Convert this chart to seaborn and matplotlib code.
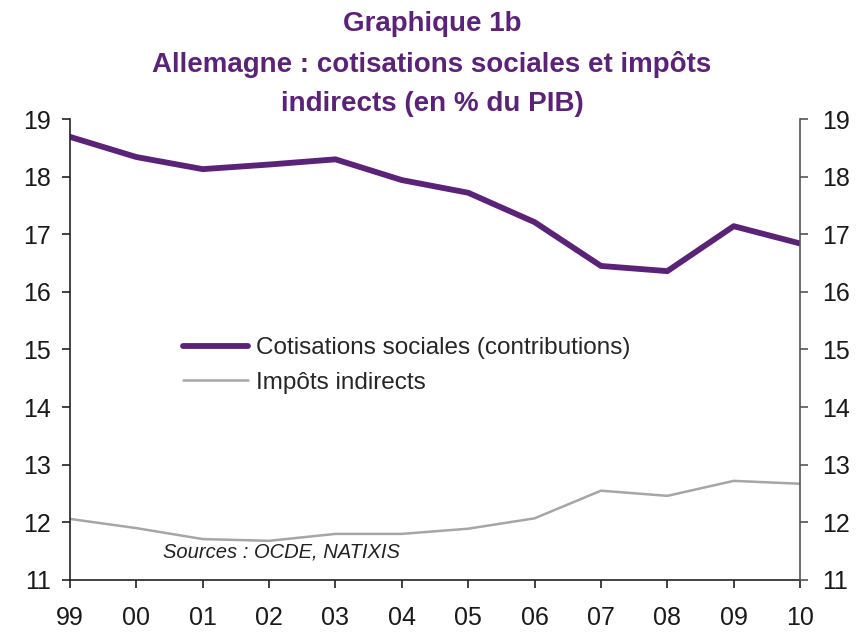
# Graphique 1b - Allemagne : cotisations sociales et impôts indirects
import matplotlib
matplotlib.use("Agg")
import matplotlib.pyplot as plt
import seaborn as sns
import pandas as pd

# Données (en % du PIB)
annees = ["99", "00", "01", "02", "03", "04", "05", "06", "07", "08", "09", "10"]
cotisations = [18.69, 18.34, 18.13, 18.21, 18.30, 17.94, 17.72, 17.21, 16.45, 16.36, 17.14, 16.84]
impots = [12.06, 11.90, 11.71, 11.68, 11.80, 11.80, 11.89, 12.07, 12.55, 12.46, 12.72, 12.67]

violet = "#5b2378"
gris = "#a6a6a6"

sns.set_style("white")
plt.rcParams["font.family"] = ["Liberation Sans", "DejaVu Sans"]

datos = pd.DataFrame({"annee": annees + annees,
                      "valeur": cotisations + impots,
                      "serie": ["Cotisations sociales (contributions)"] * len(annees)
                               + ["Impôts indirects"] * len(annees)})

fig = plt.figure(figsize=(8.64, 6.32), dpi=100)
ax = fig.add_axes([0.081, 0.0823, 0.845, 0.7294])

sns.lineplot(data=datos, x="annee", y="valeur", hue="serie", size="serie",
             palette=[violet, gris], sizes=[4.2, 1.8], ax=ax, legend=False)

ax.set_xlim(0, 11)
ax.set_ylim(11, 19)
ax.set_yticks(range(11, 20))
ax.set_xlabel("")
ax.set_ylabel("")
for s in ["top", "right"]:
    ax.spines[s].set_visible(False)
for s in ["left", "bottom"]:
    ax.spines[s].set_color("#222222")
    ax.spines[s].set_linewidth(1.2)
ax.tick_params(axis="both", direction="out", length=6, width=1.2, color="#222222",
               labelsize=18, left=True, bottom=True, labelcolor="#1a1a1a")
ax.tick_params(axis="x", pad=13)
ax.tick_params(axis="y", pad=8)

# axe de droite
ax2 = ax.twinx()
ax2.set_ylim(11, 19)
ax2.set_yticks(range(11, 20))
for s in ["top", "left", "bottom"]:
    ax2.spines[s].set_visible(False)
ax2.spines["right"].set_color("#555555")
ax2.spines["right"].set_linewidth(1.2)
ax2.tick_params(axis="y", direction="out", length=6, width=1.2, color="#555555",
                labelsize=18, right=True, pad=10, labelcolor="#1a1a1a")

# légende
lignes = [plt.Line2D([], [], color=violet, lw=4.2, solid_capstyle="round"),
          plt.Line2D([], [], color=gris, lw=1.8)]
ax.legend(lignes, ["Cotisations sociales (contributions)", "Impôts indirects"],
          loc="upper left", bbox_to_anchor=(0.155, 0.527), frameon=False,
          fontsize=17.5, handlelength=2.67, handletextpad=0.33, labelspacing=0.53,
          borderpad=0, borderaxespad=0)

ax.text(0.128, 0.06, "Sources : OCDE, NATIXIS", transform=ax.transAxes,
        fontsize=14.5, style="italic", color="#222222", va="center")

fig.text(0.5, 0.982, "Graphique 1b\nAllemagne : cotisations sociales et impôts\nindirects (en % du PIB)",
         ha="center", va="top", fontsize=20, fontweight="bold", color=violet,
         linespacing=1.65)

fig.savefig("out.png", dpi=100)
